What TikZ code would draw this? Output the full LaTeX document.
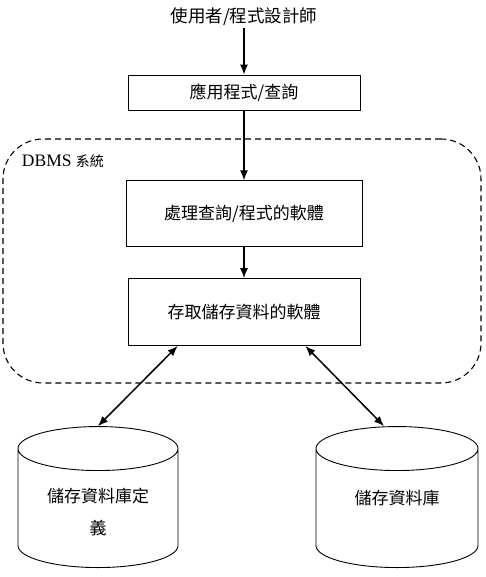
\documentclass[tikz,border=0pt]{standalone}
\usepackage{fontspec}
\setmainfont{Liberation Serif}
\newfontfamily\cjk{Noto Sans CJK TC}
\usepackage {tikz}
\usetikzlibrary {positioning}
\usetikzlibrary{arrows.meta}
\usetikzlibrary{shapes.geometric}
\tikzset{flow/.style = {->,> = {Latex[length=10pt,width=8pt]}, line width=1.5pt}}

\begin{document}
\begin{tikzpicture}[x=1pt, y=1pt,
    box/.style={rectangle,draw,line width=0.8pt,font=\cjk\fontsize{17}{19}\selectfont},
    sysbox/.style={rectangle,draw,dash pattern=on 6pt off 4pt,line width=1.1pt,rounded corners=40pt},
    store/.style={cylinder,shape border rotate=90,draw,line width=0.9pt,aspect=6.6,minimum width=160pt,minimum height=141pt,anchor=south},
    dbtext/.style={align=center,inner sep=0pt,font=\cjk\fontsize{17}{32}\selectfont}]
            \useasboundingbox (0,0) rectangle (485,-577);
            \node[box, minimum width=232pt, minimum height=35pt] (app) at (244,-92.5) {應用程式/查詢};
            \node[font=\cjk\fontsize{17.5}{19}\selectfont, inner sep=2pt] (user) [above=47pt of app] {使用者/程式設計師};
            \node[box, minimum width=236pt, minimum height=66pt] (proc) [below=70pt of app] {處理查詢/程式的軟體};
            \node[box, minimum width=232pt, minimum height=67pt] (access) [below=31pt of proc] {存取儲存資料的軟體};
            \node[sysbox, minimum width=478pt, minimum height=244pt] (dbms) at (242,-261) {};
            \node[anchor=west, font=\fontsize{17.5}{19}\selectfont] (dbmsname) at ([xshift=16pt,yshift=-23pt]dbms.north west) {DBMS {\cjk\fontsize{14}{16}\selectfont 系統}};
            \node[store] (defdb) at (98,-568) {};
            \node[store, minimum width=162pt] (db) at (397,-568) {};
            \node[dbtext, anchor=north] (defname) at ([yshift=80.5pt]defdb.south) {儲存資料庫定\\義};
            \node[dbtext] (dbname) at ([yshift=70pt]db.south) {儲存資料庫};
            \coordinate (accleft) at ([xshift=50pt]access.south west);
            \coordinate (accright) at ([xshift=-55pt]access.south east);
            \coordinate (dbtop) at ([xshift=-13pt]db.north);
            \path[flow] (user) edge (app) (app) edge (proc) (proc) edge (access);
            \path[flow, <->] (accleft) edge (defdb.north) (accright) edge (dbtop);
        \end{tikzpicture}
\end{document}
